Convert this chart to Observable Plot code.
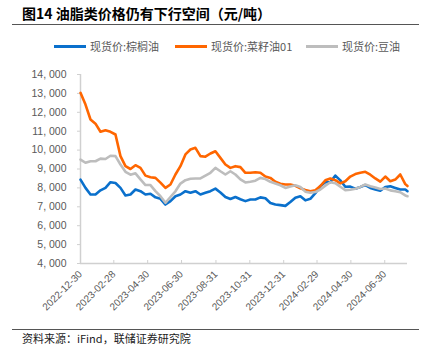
<!DOCTYPE html>
<html><head><meta charset="utf-8">
<script src="https://cdn.jsdelivr.net/npm/d3@7"></script>
<script src="https://cdn.jsdelivr.net/npm/@observablehq/plot@0.6"></script>
<style>
html,body{margin:0;padding:0;background:#fff;}
#wrap{position:relative;width:430px;height:351px;overflow:hidden;font-family:"Noto Sans CJK SC","Noto Sans",sans-serif;}
#title{position:absolute;left:22px;top:3px;font-size:14px;font-weight:bold;color:#000;white-space:nowrap;line-height:20px;}
.rule{position:absolute;left:12px;width:407px;height:1px;background:#555;}
#legend{position:absolute;top:37px;left:0;width:430px;height:18px;}
.li{position:absolute;top:0;height:18px;display:flex;align-items:center;font-size:11px;color:#595959;white-space:nowrap;}
.sw{display:inline-block;width:32px;height:3px;margin-right:4px;}
#foot{position:absolute;left:22px;top:330px;font-size:11px;color:#222;white-space:nowrap;line-height:16px;}
#chart{position:absolute;left:0;top:0;}
</style></head>
<body><div id="wrap">
<div id="chart"></div>
<div id="title">图14 油脂类价格仍有下行空间（元/吨）</div>
<div class="rule" style="top:24px"></div>
<div id="legend"></div>
<div class="rule" style="top:329px"></div>
<div id="foot">资料来源：iFind，联储证券研究院</div>
</div>
<script>
const seriesNames = ["现货价:棕榈油", "现货价:菜籽油01", "现货价:豆油"];
const seriesColors = ["#0a70cc", "#ff6600", "#bdbdbd"];
const yTicks = [4000, 5000, 6000, 7000, 8000, 9000, 10000, 11000, 12000, 13000, 14000];
const xTickLabels = ["2022-12-30","2023-02-28","2023-04-30","2023-06-30","2023-08-31","2023-10-31","2023-12-31","2024-02-29","2024-04-30","2024-06-30"];
const dates = [
"2022-12-30","2023-01-08","2023-01-17","2023-01-26","2023-02-04","2023-02-13","2023-02-22","2023-03-03","2023-03-12","2023-03-21",
"2023-03-30","2023-04-08","2023-04-17","2023-04-26","2023-05-05","2023-05-14","2023-05-23","2023-06-01","2023-06-10","2023-06-19",
"2023-06-28","2023-07-07","2023-07-16","2023-07-25","2023-08-03","2023-08-12","2023-08-21","2023-08-30","2023-09-08","2023-09-17",
"2023-09-26","2023-10-05","2023-10-14","2023-10-23","2023-11-01","2023-11-10","2023-11-19","2023-11-28","2023-12-07","2023-12-16",
"2023-12-25","2024-01-03","2024-01-12","2024-01-21","2024-01-30","2024-02-08","2024-02-17","2024-02-26","2024-03-06","2024-03-15",
"2024-03-24","2024-04-02","2024-04-11","2024-04-20","2024-04-29","2024-05-08","2024-05-17","2024-05-26","2024-06-04","2024-06-13",
"2024-06-22","2024-07-01","2024-07-10","2024-07-19","2024-07-28","2024-08-06","2024-08-10"];
const palm = [
8440,8000,7650,7650,7870,8000,8300,8260,8000,7600,
7650,7915,7825,7650,7690,7500,7420,7120,7300,7560,
7650,7825,7740,7825,7650,7740,7825,7960,7760,7520,
7410,7520,7400,7300,7390,7390,7500,7450,7200,7120,
7090,7050,7250,7480,7560,7340,7420,7720,8100,8300,
8300,8650,8400,8060,8070,7960,8050,8150,8000,7915,
7850,8050,8090,8000,7915,7915,7825];
const rapeseed = [
13030,12410,11620,11400,10970,11050,10970,10825,9680,9150,
9000,9200,9060,8650,8560,8530,8280,8000,8180,8710,
9150,9770,10030,10120,9680,9650,9820,9940,9590,9240,
9060,9150,9100,8800,8800,8830,8800,8600,8530,8330,
8220,8180,8180,8110,7980,7890,7825,7880,8100,8400,
8500,8410,8240,8350,8600,8730,8800,8850,8700,8500,
8330,8600,8350,8440,8710,8200,8100];
const soybean = [
9500,9330,9410,9410,9550,9530,9700,9680,9240,8850,
8700,8770,8450,8150,8150,7830,7560,7210,7520,7820,
8230,8410,8480,8500,8500,8650,8800,9060,8880,8710,
8880,8710,8450,8290,8330,8380,8530,8470,8320,8230,
8140,8000,8070,8140,8050,7800,7740,7780,7915,8120,
8300,8250,8060,7880,7900,7960,8050,8180,8090,8020,
7940,7970,7870,7825,7770,7600,7560];

const parse = d3.utcParse("%Y-%m-%d");
const valuesBySeries = [palm, rapeseed, soybean];
const rows = [];
valuesBySeries.forEach((vals, s) => {
  vals.forEach((v, i) => rows.push({series: seriesNames[s], date: parse(dates[i]), value: v}));
});
const xTicks = xTickLabels.map(parse);
const xDomain = [parse(dates[0]), parse(dates[dates.length - 1])];

const chart = Plot.plot({
  width: 430,
  height: 351,
  marginTop: 74,
  marginBottom: 88,
  marginLeft: 80,
  marginRight: 23,
  style: {fontFamily: "'Liberation Sans', Arial, sans-serif", fontSize: "10px", color: "#595959", background: "transparent"},
  x: {type: "utc", domain: xDomain},
  y: {domain: [4000, 14000]},
  color: {domain: seriesNames, range: seriesColors},
  marks: [
    Plot.ruleX([xDomain[0]], {stroke: "#d0d0d0", strokeWidth: 1.5}),
    Plot.ruleY([4000], {stroke: "#d0d0d0", strokeWidth: 1.5}),
    Plot.axisY({ticks: yTicks, tickSize: 3, tickPadding: 11, stroke: "#d0d0d0", label: null,
      tickFormat: d => d3.format(",")(d).replace(",", ", "), fontSize: 10.5, fill: "#595959"}),
    Plot.axisX({ticks: xTicks, tickSize: -3, tickPadding: 12, tickRotate: -45, stroke: "#d0d0d0", label: null,
      tickFormat: d3.utcFormat("%Y-%m-%d"), fontSize: 10, fill: "#595959"}),
    Plot.line(rows, {x: "date", y: "value", z: "series", stroke: "series", strokeWidth: 2.6, strokeLinejoin: "round", curve: "linear"})
  ]
});
document.getElementById("chart").appendChild(chart);

const legendPos = [{sw: 54, tx: 90}, {sw: 175, tx: 211}, {sw: 306, tx: 342}];
const legend = document.getElementById("legend");
seriesNames.forEach((name, i) => {
  const item = document.createElement("div");
  item.className = "li";
  item.style.left = legendPos[i].sw + "px";
  const sw = document.createElement("span");
  sw.className = "sw";
  sw.style.background = seriesColors[i];
  item.appendChild(sw);
  item.appendChild(document.createTextNode(name));
  legend.appendChild(item);
});
</script>
</body></html>
